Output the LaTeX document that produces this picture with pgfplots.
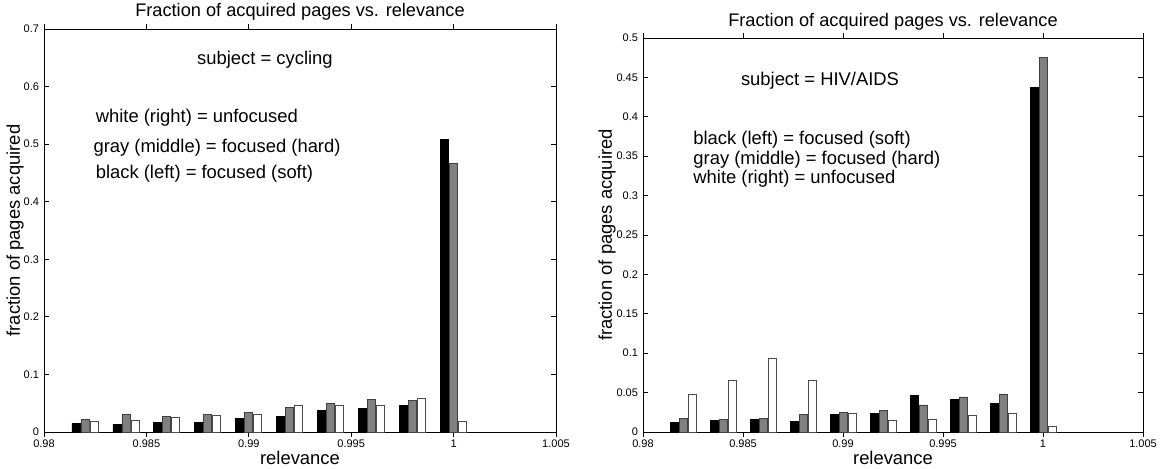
\documentclass[border=0pt]{standalone}
\usepackage{fontspec}
\setmainfont{Liberation Sans}
\usepackage{pgfplots}
\pgfplotsset{compat=1.18}

\definecolor{bargray}{gray}{0.5}

\pgfplotsset{relfig/.style={
  scale only axis, ybar=0.5pt, bar width=4pt,
  xmin=0.98, xmax=1.005, ymin=0,
  xtick={0.98,0.985,0.99,0.995,1,1.005},
  xticklabels={0.98,0.985,0.99,0.995,1,1.005},
  tick label style={font=\fontsize{5.5}{6}\selectfont},
  xticklabel style={yshift=2pt},
  yticklabel style={xshift=1pt},
  major tick length=2.5pt,
  tick style={black, line width=0.4pt},
  axis line style={line width=0.5pt},
  label style={font=\fontsize{9.2}{11}\selectfont},
  title style={font=\fontsize{9.1}{11}\selectfont, at={(0.5,1)}, anchor=center},
  title={Fraction of acquired pages vs. relevance},
  xlabel={relevance},
  ylabel={fraction of pages acquired},
  xlabel style={at={(axis description cs:0.5,0)}, anchor=center, yshift=-13pt},
  every axis plot/.append style={line width=0.4pt},
  soft/.style={fill=black, draw=black},
  hard/.style={fill=bargray, draw=black!75},
  unf/.style={fill=white, draw=black!70},
}}
\tikzset{ann/.style={font=\fontsize{9.2}{10}\selectfont, inner sep=0pt}}

\begin{document}
\begin{tikzpicture}
\useasboundingbox (0,0) rectangle (580pt,234pt);

% left panel: cycling
\begin{axis}[relfig,
  at={(22pt,18pt)}, anchor=south west,
  width=256pt, height=201.5pt,
  ymax=0.7,
  ytick={0,0.1,0.2,0.3,0.4,0.5,0.6,0.7},
  yticklabels={0,0.1,0.2,0.3,0.4,0.5,0.6,0.7},
  title style={yshift=2.5pt},
  ylabel style={at={(axis description cs:-0.0566,0.5)}, anchor=center},
]
\addplot[soft] coordinates {(0.982,0.0145) (0.984,0.0127) (0.986,0.0168) (0.988,0.0168) (0.990,0.0243)
  (0.992,0.0270) (0.994,0.0376) (0.996,0.0405) (0.998,0.0457) (1.000,0.508)};
\addplot[hard] coordinates {(0.982,0.0214) (0.984,0.0300) (0.986,0.0270) (0.988,0.0300) (0.990,0.0340)
  (0.992,0.0428) (0.994,0.0497) (0.996,0.0573) (0.998,0.0544) (1.000,0.4657)};
\addplot[unf] coordinates {(0.982,0.0185) (0.984,0.0200) (0.986,0.0255) (0.988,0.0280) (0.990,0.0300)
  (0.992,0.0460) (0.994,0.0457) (0.996,0.0457) (0.998,0.0578) (1.000,0.0190)};
\node[ann, anchor=center] at (axis cs:0.99079,0.647) {subject = cycling};
\node[ann, anchor=west] at (axis cs:0.98251,0.546) {white (right) = unfocused};
\node[ann, anchor=west] at (axis cs:0.98240,0.493) {gray (middle) = focused (hard)};
\node[ann, anchor=west] at (axis cs:0.98251,0.448) {black (left) = focused (soft)};
\end{axis}

% right panel: HIV/AIDS
\begin{axis}[relfig,
  at={(321.5pt,18pt)}, anchor=south west,
  width=250pt, height=197pt,
  ymax=0.5,
  ytick={0,0.05,0.1,0.15,0.2,0.25,0.3,0.35,0.4,0.45,0.5},
  yticklabels={0,0.05,0.1,0.15,0.2,0.25,0.3,0.35,0.4,0.45,0.5},
  title style={yshift=2pt},
  ylabel style={at={(axis description cs:-0.072,0.5)}, anchor=center},
]
\addplot[soft] coordinates {(0.982,0.0119) (0.984,0.0144) (0.986,0.0161) (0.988,0.0136) (0.990,0.0220)
  (0.992,0.0237) (0.994,0.0466) (0.996,0.0415) (0.998,0.0360) (1.000,0.4373)};
\addplot[hard] coordinates {(0.982,0.0174) (0.984,0.0165) (0.986,0.0169) (0.988,0.0220) (0.990,0.0246)
  (0.992,0.0275) (0.994,0.0343) (0.996,0.0445) (0.998,0.0483) (1.000,0.4758)};
\addplot[unf] coordinates {(0.982,0.0479) (0.984,0.0657) (0.986,0.0940) (0.988,0.0657) (0.990,0.0233)
  (0.992,0.0144) (0.994,0.0165) (0.996,0.0216) (0.998,0.0233) (1.000,0.0068)};
\node[ann, anchor=center] at (axis cs:0.98885,0.446) {subject = HIV/AIDS};
\node[ann, anchor=west] at (axis cs:0.9825,0.3714) {black (left) = focused (soft)};
\node[ann, anchor=west] at (axis cs:0.9825,0.3460) {gray (middle) = focused (hard)};
\node[ann, anchor=west] at (axis cs:0.9825,0.3220) {white (right) = unfocused};
\end{axis}
\end{tikzpicture}
\end{document}
